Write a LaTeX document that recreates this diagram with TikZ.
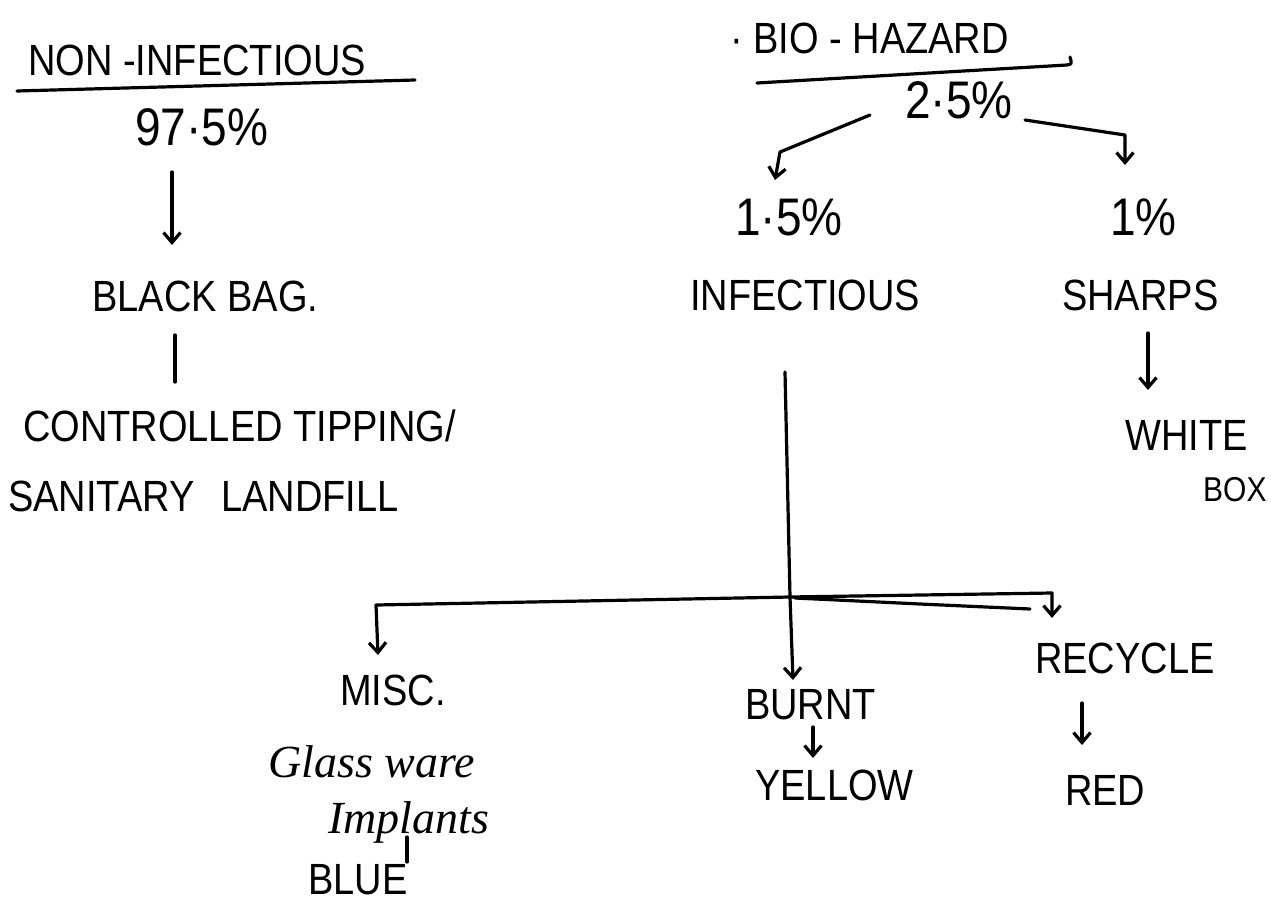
\documentclass[tikz,border=0pt]{standalone}
\usepackage{fontspec}
\setmainfont{Liberation Sans}
\newfontfamily\cursivefont{Liberation Serif}
\usetikzlibrary{arrows.meta,calc}
\begin{document}
\begin{tikzpicture}[x=1pt,y=-1pt,
  ink/.style={line width=3.2pt,line cap=round,line join=round,black},
  arr/.style={ink,-{Straight Barb[length=10pt,width=17pt]}},
  hw/.style={anchor=west,inner sep=0pt,yscale=1.15,transform shape,font=\fontsize{38}{42}\selectfont},
  pc/.style={hw,font=\fontsize{46}{50}\selectfont},
  cur/.style={anchor=west,inner sep=0pt,font=\cursivefont\itshape\fontsize{46}{50}\selectfont},
  sm/.style={hw,font=\fontsize{30}{34}\selectfont}]
\fill[white] (0,0) rectangle (1271,910);
\useasboundingbox (0,0) rectangle (1271,910);

% left column
\node[hw] (noninf) at (28,60) {NON -INFECTIOUS};
\node[pc] (pct97) at (135,127) {97·5\%};
\node[hw] (blackbag) at (92,296) {BLACK BAG.};
\node[hw] (ctl1) at (23,426) {CONTROLLED TIPPING/};
\node[hw] (ctl2) at (8,496) {SANITARY\hspace{0.7em}LANDFILL};

% right top
\node[hw] (biohaz) at (730,38) {· BIO - HAZARD};
\node[pc] (pct25) at (905,100) {2·5\%};
\node[pc] (pct15) at (735,217) {1·5\%};
\node[pc] (pct1) at (1110,217) {1\%};
\node[hw] (infectious) at (690,295) {INFECTIOUS};
\node[hw] (sharps) at (1062,295) {SHARPS};
\node[hw] (white) at (1125,435) {WHITE};
\node[sm] (box) at (1203,490) {BOX};

% bottom
\node[hw] (misc) at (340,690) {MISC.};
\node[cur] (glass) at (268,762) {Glass ware};
\node[cur] (implants) at (328,822) {Implants};
\node[hw] (blue) at (308,880) {BLUE};
\node[hw] (burnt) at (745,705) {BURNT};
\node[hw] (yellow) at (755,785) {YELLOW};
\node[hw] (recycle) at (1035,658) {RECYCLE};
\node[hw] (red) at (1065,790) {RED};

% underlines
\draw[ink] ($(noninf.west)+(-11,31)$) -- ($(noninf.west)+(387,20)$);
\draw[ink] ($(biohaz.west)+(27,45)$) -- ($(biohaz.west)+(337,27)$)
  .. controls ($(biohaz.west)+(342,26)$) .. ($(biohaz.west)+(340,19)$);

% left column connectors
\draw[arr] ($(pct97.west)+(37,45)$) -- ($(blackbag.west)+(80,-51)$);
\draw[ink] ($(blackbag.west)+(83,39)$) -- ($(ctl1.west)+(152,-44)$);

% bio-hazard branches
\draw[arr] ($(pct25.west)+(-35,15)$) -- ($(pct15.west)+(45,-65)$) -- ($(pct15.west)+(40,-37)$);
\draw[arr] ($(pct25.west)+(120,20)$) -- ($(pct1.west)+(15,-82)$) -- ($(pct1.west)+(15,-52)$);
\draw[arr] ($(sharps.west)+(86,38)$) -- ($(white.west)+(23,-45)$);

% infectious tree
\coordinate (jn) at ($(infectious.west)+(100,302)$);
\draw[ink] ($(infectious.west)+(95,77)$) -- (jn);
\draw[arr] (jn) -- ($(misc.west)+(36,-85)$) -- ($(misc.west)+(38,-35)$);
\draw[arr] (jn) -- ($(recycle.west)+(17,-65)$) -- ($(recycle.west)+(17,-40)$);
\draw[ink] ($(jn)+(5,1)$) -- ($(jn)+(130,7)$) -- ($(jn)+(240,12)$);
\draw[arr] (jn) -- ($(burnt.west)+(48,-25)$);
\draw[arr] ($(burnt.west)+(68,22)$) -- ($(yellow.west)+(58,-27)$);
\draw[arr] ($(recycle.west)+(47,45)$) -- ($(red.west)+(17,-45)$);
\draw[ink] ($(implants.west)+(79,15)$) -- ($(blue.west)+(99,-18)$);
\end{tikzpicture}
\end{document}
